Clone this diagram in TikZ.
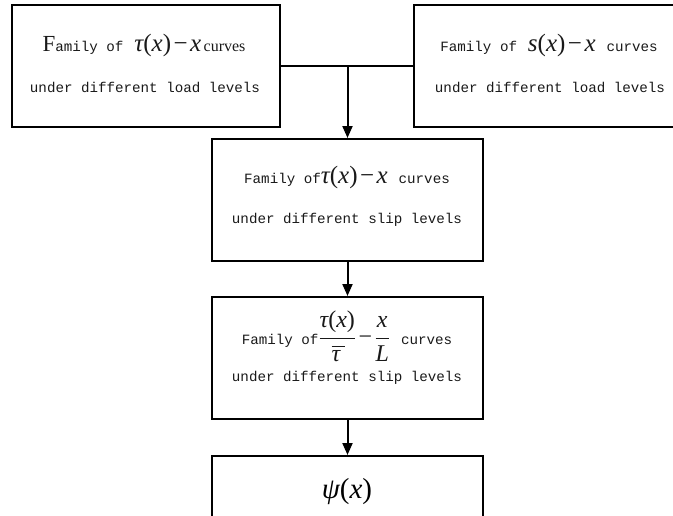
\documentclass[tikz,border=0pt]{standalone}
\usepackage{fontspec}
\setmainfont{Liberation Serif}
\setmonofont{Liberation Mono}
\newfontfamily\mfont{Liberation Serif}
\newcommand\mi[1]{{\mfont\itshape #1}}
\newcommand\mup[1]{{\mfont #1}}
\newcommand\mminus{\hspace{0.1em}\mup{−}\hspace{0.1em}}
\newcommand\taubar{\vbox{\hrule height 0.9pt width 0.55em\kern3pt\hbox{\mi{τ}}}}
\usetikzlibrary{arrows.meta}
\begin{document}
\begin{tikzpicture}[x=1pt,y=-1pt,
  box/.style={draw,line width=2pt,inner sep=0pt,minimum width=#1},
  box/.default=269pt,
  txt/.style={inner sep=0pt,font=\ttfamily\fontsize{14.2}{16}\selectfont,text=black!90},
  arr/.style={line width=2pt,-{Triangle[length=12pt,width=10pt]}},
  ln/.style={line width=2pt}]
\useasboundingbox (0,0) rectangle (673,515);
\clip (0,0) rectangle (673,515);
% boxes
\node[box=268pt,minimum height=122pt] (b1) at (145.5,66) {};
\node[box=262pt,minimum height=122pt] (b2) at (545,66) {};
\node[box=271pt,minimum height=122pt] (b3) at (347.5,200) {};
\node[box=271pt,minimum height=122pt] (b4) at (347.5,358) {};
\node[box=271pt,minimum height=122pt] (b5) at (347.5,517) {};
% texts
\node[txt] (t1a) at (144,45) {{\mfont\fontsize{23}{23}\selectfont F}amily of \,{\fontsize{25}{25}\selectfont\mi{τ}\mup{(}\mi{x}\mup{)}\mminus\mi{x}}\,{\mfont\fontsize{16}{16}\selectfont curves}};
\node[txt] (t1b) at (145,87) {under different load levels};
\node[txt] (t2a) at (549,45) {Family of \,{\fontsize{25}{25}\selectfont\mi{s}\mup{(}\mi{x}\mup{)}\mminus\mi{x}} \,curves};
\node[txt] (t2b) at (550,87) {under different load levels};
\node[txt] (t3a) at (347,177) {Family of{\fontsize{25}{25}\selectfont\mi{τ}\mup{(}\mi{x}\mup{)}\mminus\mi{x}} \,curves};
\node[txt] (t3b) at (347,220) {under different slip levels};
\node[txt] (t4a) at (347,336) {Family of{\fontsize{24}{26}\selectfont$\displaystyle\frac{\hbox{\mi{τ}\mup{(}\mi{x}\mup{)}}}{\hbox{\kern2pt\taubar}}$\mminus$\displaystyle\frac{\hbox{\mi{x}}}{\hbox{\mi{L}}}$} \,curves};
\node[txt] (t4b) at (347,378) {under different slip levels};
\node[inner sep=0pt,font=\fontsize{29}{32}\selectfont] (t5) at (347,492) {\mi{ψ}\mup{(}\mi{x}\mup{)}};
% connectors
\draw[ln] (b1.east) -- (b2.west);
\coordinate (j) at (b3.north |- b1.east);
\draw[arr] (j) -- (b3.north);
\draw[arr] (b3.south) -- (b4.north);
\draw[arr] (b4.south) -- (b5.north);
\end{tikzpicture}
\end{document}
